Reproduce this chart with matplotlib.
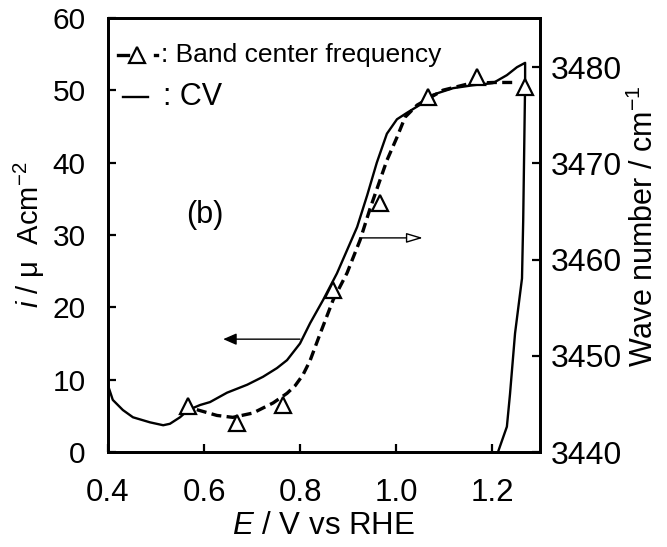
import matplotlib
matplotlib.use("Agg")
import matplotlib.pyplot as plt
from matplotlib.lines import Line2D

plt.rcParams['font.family'] = ['Liberation Sans', 'DejaVu Sans']
plt.rcParams['mathtext.fontset'] = 'custom'
plt.rcParams['mathtext.rm'] = 'Liberation Sans'
plt.rcParams['mathtext.it'] = 'Liberation Sans:italic'

# CV (left axis, µA cm^-2)
cv_E = [0.398, 0.410, 0.431, 0.452, 0.4875, 0.515, 0.529, 0.55, 0.567, 0.592, 0.6125,
        0.648, 0.69, 0.723, 0.752, 0.773, 0.8, 0.821, 0.848, 0.877, 0.898, 0.919,
        0.94, 0.96, 0.981, 1.002, 1.023, 1.05, 1.077, 1.119, 1.16, 1.202,
        1.231, 1.252, 1.269, 1.269, 1.265, 1.2625, 1.248, 1.2375, 1.231, 1.2125, 1.205]
cv_i = [9.6, 7.2, 5.8, 4.8, 4.1, 3.7, 3.9, 4.8, 5.8, 6.5, 6.9,
        8.2, 9.3, 10.4, 11.6, 12.7, 15.0, 17.8, 21.0, 24.7, 27.9, 31.1,
        35.5, 40.0, 44.0, 46.0, 46.9, 48.0, 49.4, 50.3, 50.7, 51.0,
        52.1, 53.2, 53.8, 51.0, 32.0, 24.0, 16.4, 8.0, 3.5, 0.0, -1.5]

# Band center frequency (right axis, cm^-1)
band_E = [0.567, 0.669, 0.765, 0.869, 0.967, 1.067, 1.169, 1.269]
band_nu = [3444.8, 3443.0, 3444.9, 3456.8, 3465.9, 3476.9, 3479.0, 3477.9]

# dashed guide curve through band frequencies
fit_E = [0.585, 0.627, 0.66, 0.702, 0.744, 0.773, 0.79, 0.806, 0.821, 0.842, 0.869, 0.898,
         0.925, 0.946, 0.981, 1.002, 1.019, 1.044, 1.098, 1.154, 1.202, 1.252]
fit_nu = [3444.4, 3443.8, 3443.6, 3444.05, 3445.1, 3446.1, 3446.9, 3448.0, 3449.5, 3452.3, 3455.8, 3458.6,
          3462.0, 3465.3, 3470.3, 3472.7, 3474.8, 3476.05, 3477.6, 3478.3, 3478.4, 3478.4]

x_ticks = [0.4, 0.6, 0.8, 1.0, 1.2]
x_ticklabels = ['0.4', '0.6', '0.8', '1.0', '1.2']
yl_ticks = [0, 10, 20, 30, 40, 50, 60]
yr_ticks = [3440, 3450, 3460, 3470, 3480]

fig = plt.figure(figsize=(6.67, 5.47), dpi=100)
ax = fig.add_axes([108/667, 1-452/547, 432/667, 434/547])
ax2 = ax.twinx()

ax.plot(cv_E, cv_i, color='black', lw=1.7, zorder=3)
ax.set_xlim(0.4, 1.3)
ax.set_ylim(0, 60)
ax2.set_ylim(3440, 3485.1)

ax2.plot(fit_E, fit_nu, color='black', lw=2.4, dashes=(3, 1.6), zorder=2)
ax2.plot(band_E, band_nu, ls='none', marker='^', ms=11, mfc='white', mec='black', mew=1.6, zorder=4)

ax.set_xticks(x_ticks)
ax.set_xticklabels(x_ticklabels)
ax.set_yticks(yl_ticks)
ax2.set_yticks(yr_ticks)

for a in (ax, ax2):
    for s in a.spines.values():
        s.set_linewidth(2.0)
ax.tick_params(axis='x', direction='in', length=6, width=1.6, labelsize=22.5, pad=19)
ax.tick_params(axis='y', direction='in', length=6, width=1.6, labelsize=21.5, pad=16, right=False)
ax2.tick_params(axis='y', direction='in', length=6, width=1.6, labelsize=23, pad=8)

ax.set_xlabel(r'$\it{E}$ / V vs RHE', fontsize=22.5, labelpad=2)
ax.set_ylabel(r'$\it{i}$ / μ  Acm$^{-2}$', fontsize=21, labelpad=4)
ax2.set_ylabel(r'Wave number / cm$^{-1}$', fontsize=22, labelpad=10)
ax2.yaxis.set_label_coords(1.205, 0.52)

ax.text(0.602, 32.8, '(b)', fontsize=22, ha='center', va='center')

# arrows
ax.annotate('', xy=(0.640, 15.6), xytext=(0.8, 15.6),
            arrowprops=dict(arrowstyle='-|>,head_length=0.8,head_width=0.35', color='black', lw=1.0, shrinkA=0, shrinkB=0))
ax.annotate('', xy=(1.056, 29.6), xytext=(0.925, 29.6),
            arrowprops=dict(arrowstyle='-|>,head_length=1.0,head_width=0.3', fc='white', ec='black', lw=1.0, shrinkA=0, shrinkB=0))

# legend (manual)
T = ax.transAxes
y1 = 0.915
ax.add_line(Line2D([0.023, 0.046], [y1, y1], transform=T, color='black', lw=2.4, clip_on=False))
ax.add_line(Line2D([0.067], [y1], transform=T, ls='none', marker='^', ms=11, mfc='white', mec='black', mew=1.6))
ax.add_line(Line2D([0.108, 0.114], [y1, y1], transform=T, color='black', lw=2.4))
ax.text(0.122, y1, ': Band center frequency', transform=T, fontsize=19, va='center', ha='left')
y2 = 0.818
ax.add_line(Line2D([0.035, 0.092], [y2, y2], transform=T, color='black', lw=1.7))
ax.text(0.128, y2, ': CV', transform=T, fontsize=22, va='center', ha='left')

fig.savefig('out.png', dpi=100)
